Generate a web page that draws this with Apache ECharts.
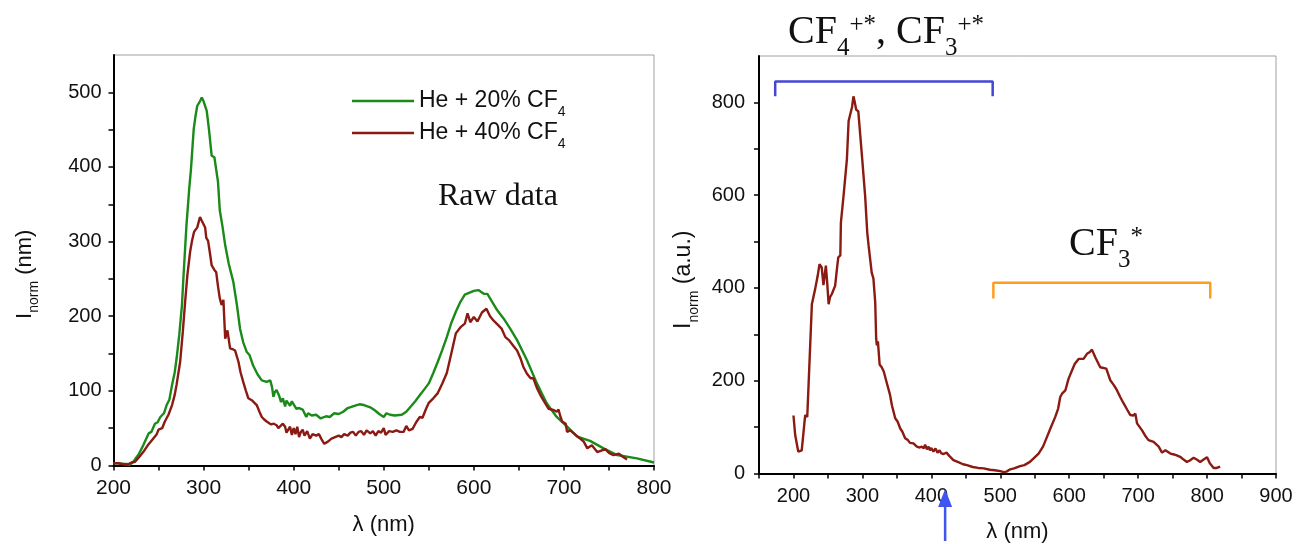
<!DOCTYPE html>
<html><head><meta charset="utf-8">
<script src="https://cdn.jsdelivr.net/npm/echarts@6/dist/echarts.min.js"></script>
<style>html,body{margin:0;padding:0;background:#fff}#c{width:1296px;height:544px}</style>
</head><body><div id="c"></div>
<script>
// ---- Left panel: raw data, two mixtures ----
const wl20 = [200,205,210,215,218,222,228,233,239,242,246,249,252,256,259,262,265,268,270,273,276,278,281,284,286,289,291,293,296,298,300,303.5,306,309,312,314,316,318,321,324,328,333,337,340.5,344,348,351,355,360,364.6,370,374,376,377.5,379,381,384,386,388,390.5,392,394,396,398,400,403,406,410,414,416,420,425,430,432,436,440,445,450,455,460,465,470,473,478,485,490,495,500,503,507,512,520,525,530,535,540,545,550,555,560,565,570,575,580,585,590,596,600,605,611,615,620,626,633,640,648,659,670,681,692,703.5,715,729,744,759,781,800];
const int20 = [3,3,2,2,1,5,15,27,43,45,56,58,65,70,81,88,108,125,143,175,215,260,322,370,397,450,468,482,488,493,488,475,450,415,413,411,380,342,320,295,270,246,215,183,165,152,148,134,122,114,112,114,105,92,98,101,93,85,90,79,87,88,80,86,84,76,77,75,65,70,67,68,63,61,66,65,70,69,72,77,79,81,82,81,78,74,69,65,70,68,67,68,72,79,86,94,102,110,124,139,155,172,191,206,219,229,232,234,235,230,230,220,208,197,184,168,141,110,83,65,52,38.5,33,23,14,9.6,4];
const wl40 = [200,205,210,215,220,224,226,229,233,238,244,248,250,252,254,257,261,265,268,270,274,277,279.5,282,285,287,289.4,293,296,298,301.7,303,305,307,309,312,314,316,318,320,322,324,326.5,329.4,332,335,338.7,341,344,347,349.7,354,359,362,364.6,367,370,375,378,381,383,385,388,390.5,392,394,396,398,400,402,404,406,408,410,412,415,418,421,425,428,431,434,438,442,446,450,453,456,460,463,466,469,472,475,478,481,485,488,491,494,497,500,502,506,510,514,518,522,525,528,532,536,540,543,547,550,555,560,565,570,575,580,585,590,593,596,600,604,609,614,618,622,627,631,635,639,644,648,652,655,659,663,666,670,674,679,683,689,692,694,696,698,702,703.5,707,712,718,722,726,731,737,746,750,755,761,765,770];
const int40 = [3,3,2,1,4,5,5,12,18,27,36,42,48,46,50,59,68,81,95,108,139,180,219,255,286,300,313,319,333,328,319,305,301,285,268,262,259,240,224,215,222,170,181,157,156,154,139,125,112,100,90,87,81,72,65,62,59,55,56,54,50,50,56,52,44,43,52,41,50,42,52,38,45,48,40,46,36,42,40,42,35,29,32,36,38,40,38,42,40,44,45,40,45,46,41,47,43,46,40,46,44,50,41,46,45,47,45,45,53,47,49,58,65,64,76,84,90,97,110,124,150,177,185,190,204,192,199,193,205,210,200,194,188,183,172,168,160,154,143,132,123,117,117,104,94,84,76,74,72,75,66,59,56,45,47,42,36,32,23,27,18,22,17,14,16,12,8];
const seriesNames = ['He + 20% CF4', 'He + 40% CF4'];

// ---- Right panel ----
const wlR = [200,202.5,207,209,212,217,220,222,226.7,231.5,235,237.8,241,243.5,247,249,251,253,255.7,260.5,263,265,268,268.8,270,272.6,277.5,280,282,285,287,289,291,294,299,304,307,309,313.5,316,318.6,320,321,322.5,325,328,331,335.6,340,342.8,345,347.6,351,354.9,358,362,366,369,374,379,383,386,389,391,393.6,396,398,400,403,406,409,412,414,417.7,422,426,432,440,446,451.7,460,468,475.8,485,492,500,505,509,514.5,520,528.8,535,543,548,555.6,562,567.8,573,579.8,584,587,589.6,594.4,599,604,608,613.6,620.8,625.8,630,633,638,645,653.8,659.6,665,669.4,674,679,684,688.7,693,696,698.4,705.7,710,715,722.5,729.8,734.7,739.5,746.8,752,756,761,766,770.7,775,780.5,785,790,795,800,804,809.5,814,819];
const intR = [125,83,47,44,50,126,122,119,365,398,425,451,444,406,448,410,365,380,387,405,440,466,470,541,540,598,677,760,763,790,813,800,784,781,691,598,520,491,433,420,369,290,276,285,235,229,220,194,170,147,145,119,112,97,90,76,72,66,65,58,56,58,54,62,52,58,50,55,47,54,45,50,44,42,45,38,29,24,20,18,14,12,11,8,7,5,3,4,9,11,16,18,25,32,43,58,79,98,122,140,165,172,179,204,222,236,247,247,258,262,267,250,229,226,201,190,179,165,151,138,126,125,129,108,93,82,72,68,58,45,50,43,41,39,36,30,25,28,34,30,25,30,35,22,12,12,15];

// annotation brackets (data coordinates of right panel)
const bracketBlueX = [173.5,173.5,489,489];
const bracketBlueY = [813,845,845,813];
const bracketOrangeX = [490,490,804.6,804.6];
const bracketOrangeY = [377,411,411,377];
const arrowAtX = [420];

const zip = (a,b) => a.map((v,i) => [v, b[i]]);

const chart = echarts.init(document.getElementById('c'), null, {renderer:'canvas'});
const SANS = '"Liberation Sans", Arial, sans-serif';
const SERIF = '"Liberation Serif", "Times New Roman", serif';
const tick = {show:true, inside:false, length:5, lineStyle:{color:'#000', width:1.5}};
const axLine = {show:true, lineStyle:{color:'#000', width:2}};
const lbl = (mod, size, margin) => ({fontSize:size, color:'#111', fontFamily:SANS, margin:margin,
  formatter: v => (v % mod === 0 ? String(v) : '')});
const serifRich = (big) => ({
  a:{fontFamily:SERIF, fontSize:big, fontWeight:'normal', color:'#111', lineHeight:48, verticalAlign:'middle'},
  s:{fontFamily:SERIF, fontSize:25, fontWeight:'normal', color:'#111', verticalAlign:'bottom', lineHeight:48, padding:[0,0,-5,0]},
  p:{fontFamily:SERIF, fontSize:25, fontWeight:'normal', color:'#111', verticalAlign:'top', lineHeight:48, padding:[5,0,0,0]}
});

const option = {
  animation:false,
  backgroundColor:'#fff',
  title:[
    {text:'{a|CF}{s|4}{p|+*}{a|, CF}{s|3}{p|+*}', left:783, top:3,
     textStyle:{fontWeight:'normal', rich:serifRich(40)}},
    {text:'{a|CF}{s|3}{p|*}', left:1064, top:215,
     textStyle:{fontWeight:'normal', rich:serifRich(40)}},
    {text:'Raw data', left:433, top:176,
     textStyle:{fontFamily:SERIF, fontSize:32, fontWeight:'normal', color:'#111'}}
  ],
  legend:{
    data:seriesNames, left:352, top:89, orient:'vertical', icon:'rect', itemWidth:62, itemHeight:2.6, itemGap:2,
    padding:0,
    formatter: n => n.replace('CF4', 'CF{s|4}'),
    textStyle:{fontFamily:SANS, fontSize:23, color:'#111', lineHeight:24,
      rich:{s:{fontFamily:SANS, fontSize:14, color:'#111', verticalAlign:'bottom', lineHeight:24, padding:[0,0,-6,0]}}}
  },
  grid:[
    {left:113.5, top:55, width:540.5, height:410.5, show:true, borderColor:'#a0a0a0', borderWidth:1,
     outerBoundsMode:'none', containLabel:false},
    {left:759, top:56, width:517, height:417.5, show:true, borderColor:'#a0a0a0', borderWidth:1,
     outerBoundsMode:'none', containLabel:false}
  ],
  xAxis:[
    {gridIndex:0, type:'value', min:200, max:800, interval:50, axisLine:axLine, axisTick:tick,
     splitLine:{show:false}, axisLabel:lbl(100, 21, 12),
     name:'λ (nm)', nameLocation:'middle', nameGap:48,
     nameTextStyle:{fontFamily:SANS, fontSize:22, color:'#111'}},
    {gridIndex:1, type:'value', min:150, max:900, interval:50, axisLine:axLine, axisTick:tick,
     splitLine:{show:false}, axisLabel:lbl(100, 20, 13),
     name:'λ (nm)', nameLocation:'middle', nameGap:47,
     nameTextStyle:{fontFamily:SANS, fontSize:22, color:'#111'}}
  ],
  yAxis:[
    {gridIndex:0, type:'value', min:0, max:550, interval:50, axisLine:axLine, axisTick:tick,
     splitLine:{show:false}, axisLabel:Object.assign(lbl(100, 20, 12), {showMaxLabel:false}),
     name:'{i|I}{s|norm}{i| (nm)}', nameLocation:'middle', nameGap:74,
     nameTextStyle:{padding:[0,28,0,0], rich:{
       i:{fontFamily:SANS, fontSize:22, color:'#111', lineHeight:30, verticalAlign:'middle'},
       s:{fontFamily:SANS, fontSize:14, color:'#111', lineHeight:30, verticalAlign:'bottom', padding:[0,0,-2,0]}
     }}},
    {gridIndex:1, type:'value', min:0, max:900, interval:100, axisLine:axLine, axisTick:tick,
     splitLine:{show:false}, axisLabel:Object.assign(lbl(200, 20, 14), {showMaxLabel:false}),
     name:'{i|I}{s|norm}{i| (a.u.)}', nameLocation:'middle', nameGap:60,
     nameTextStyle:{padding:[0,30,0,0], rich:{
       i:{fontFamily:SANS, fontSize:23, color:'#111', lineHeight:30, verticalAlign:'middle'},
       s:{fontFamily:SANS, fontSize:14, color:'#111', lineHeight:30, verticalAlign:'bottom', padding:[0,0,-2,0]}
     }}}
  ],
  series:[
    {name:seriesNames[0], type:'line', xAxisIndex:0, yAxisIndex:0, data:zip(wl20,int20),
     symbol:'none', lineStyle:{color:'#1a8a1a', width:2.4}, itemStyle:{color:'#1a8a1a'}},
    {name:seriesNames[1], type:'line', xAxisIndex:0, yAxisIndex:0, data:zip(wl40,int40),
     symbol:'none', lineStyle:{color:'#8b1a12', width:2.4}, itemStyle:{color:'#8b1a12'}},
    {name:'spectrum', type:'line', xAxisIndex:1, yAxisIndex:1, data:zip(wlR,intR),
     symbol:'none', lineStyle:{color:'#8b1a12', width:2.4}},
    {name:'bracketBlue', type:'line', xAxisIndex:1, yAxisIndex:1, data:zip(bracketBlueX,bracketBlueY),
     symbol:'none', lineStyle:{color:'#4646d6', width:2.5}, clip:false},
    {name:'bracketOrange', type:'line', xAxisIndex:1, yAxisIndex:1, data:zip(bracketOrangeX,bracketOrangeY),
     symbol:'none', lineStyle:{color:'#ff9d1e', width:2.5}, clip:false}
  ]
};
chart.setOption(option);

// blue arrow under the right x-axis
const ax = chart.convertToPixel({xAxisIndex:1}, arrowAtX[0]);
chart.setOption({graphic:[
  {type:'line', shape:{x1:ax, y1:541, x2:ax, y2:503}, style:{stroke:'#3f55f2', lineWidth:2.5}, z:100},
  {type:'polygon', shape:{points:[[ax,489],[ax-7,507],[ax+7,507]]}, style:{fill:'#3f55f2'}, z:100}
]});
</script>
</body></html>
